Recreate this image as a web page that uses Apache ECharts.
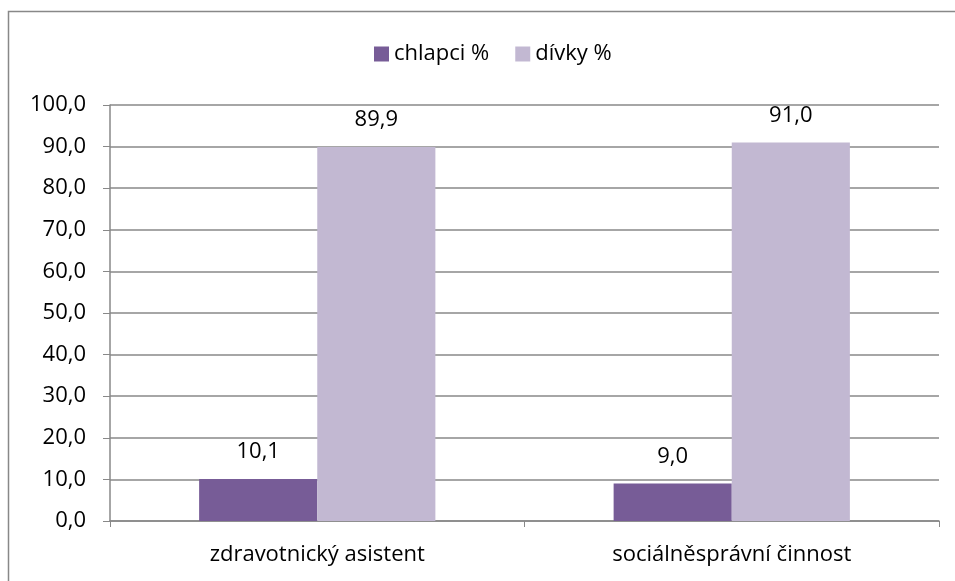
<!DOCTYPE html>
<html>
<head>
<meta charset="utf-8">
<script src="https://cdn.jsdelivr.net/npm/echarts@6/dist/echarts.min.js"></script>
<style>
  html, body { margin: 0; padding: 0; background: #fff; }
  #chart { width: 955px; height: 581px; }
</style>
</head>
<body>
<div id="chart"></div>
<script>
const categories = ["zdravotnický asistent", "sociálněsprávní činnost"];
const boys = [10.1, 9.0];
const girls = [89.9, 91.0];
const seriesNames = ["chlapci %", "dívky %"];

const font = "'Open Sans', 'Liberation Sans', sans-serif";
const fmt = v => v.toFixed(1).replace(".", ",");

const chart = echarts.init(document.getElementById("chart"));

const barLabel = {
  show: true,
  position: "top",
  distance: 16,
  color: "#000",
  fontFamily: font,
  fontSize: 22,
  formatter: p => fmt(p.value)
};

chart.setOption({
  animation: false,
  graphic: [{
    type: "rect",
    shape: { x: 8.5, y: 11.5, width: 960, height: 600 },
    style: { fill: "none", stroke: "#888", lineWidth: 1.5 }
  }],
  legend: {
    top: 38,
    left: 369,
    itemWidth: 15,
    itemHeight: 15,
    itemGap: 26,
    icon: "rect",
    textStyle: { fontFamily: font, fontSize: 22, color: "#000" },
    data: seriesNames
  },
  grid: { left: 110, right: 16, top: 105, bottom: 60 },
  xAxis: {
    type: "category",
    data: categories,
    axisLine: { lineStyle: { color: "#888", width: 1.5 } },
    axisTick: { show: true, length: 6, lineStyle: { color: "#888" } },
    axisLabel: { color: "#000", fontFamily: font, fontSize: 22, margin: 23 }
  },
  yAxis: {
    type: "value",
    min: 0,
    max: 100,
    interval: 10,
    axisLine: { show: true, lineStyle: { color: "#888", width: 1.5 } },
    axisTick: { show: true, length: 7, lineStyle: { color: "#888" } },
    splitLine: { lineStyle: { color: "#888", width: 1.5 } },
    axisLabel: { color: "#000", fontFamily: font, fontSize: 22, margin: 24, formatter: v => fmt(v) }
  },
  series: [
    {
      name: seriesNames[0],
      type: "bar",
      data: boys,
      barGap: "0%",
      barCategoryGap: "43%",
      itemStyle: { color: "#775C97" },
      label: barLabel
    },
    {
      name: seriesNames[1],
      type: "bar",
      data: girls,
      itemStyle: { color: "#C2B8D2" },
      label: barLabel
    }
  ]
});
</script>
</body>
</html>
